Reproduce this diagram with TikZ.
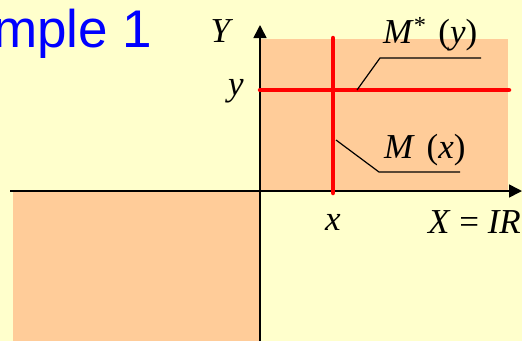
\documentclass[tikz,border=0pt]{standalone}
\usepackage{fontspec}
\setmainfont{Liberation Serif}
\newfontfamily\titlefont{Liberation Sans}
\usetikzlibrary{arrows.meta}

\definecolor{paper}{RGB}{255,255,204}
\definecolor{region}{RGB}{255,204,153}

\begin{document}
\begin{tikzpicture}[x=1pt,y=-1pt,
axis/.style={line width=1.6pt, -{Triangle[length=13pt,width=13pt]}},
cut/.style={red, line width=4.5pt, line cap=round},
leader/.style={line width=1.2pt},
mathlbl/.style={font=\fontsize{35}{42}\selectfont, inner sep=0pt}]

\fill[paper] (0,0) rectangle (522,341);
\useasboundingbox (0,0) rectangle (522,341);
\clip (0,0) rectangle (522,341);

\fill[region] (260,39) rectangle (508,191);
\fill[region] (13,191) rectangle (260,341);

\draw[axis] (10,191) -- (522,191);
\draw[axis] (260,341) -- (260,25);

\node[anchor=base east, font=\titlefont\fontsize{53}{64}\selectfont, text=blue] (title) at (156,47) {ample 1};

% sections through the point (x,y)
\coordinate (xtop) at (333,38);
\coordinate (xbot) at (333,193);
\coordinate (yleft) at (260,90);
\coordinate (yright) at (509,90);
\draw[cut] (xtop) -- (xbot);
\draw[cut] (yleft) -- (yright);

\node[mathlbl, anchor=base] (Ylab) at (222,42) {\textit{Y}};
\node[mathlbl, anchor=base] (ylab) at (236,95) {\textit{y}};
\node[mathlbl, anchor=base] (xlab) at (333,230) {\textit{x}};
\node[mathlbl, anchor=base east] (Xlab) at (521,233) {\textit{X} = \textit{IR}};
\node[mathlbl, anchor=base west] (Mstar) at (383,43) {\textit{M}\textsuperscript{*}\,\,(\textit{y})};
\node[mathlbl, anchor=base west] (Mx) at (384,158) {\textit{M}\,\,(\textit{x})};

\coordinate (ms1) at (357,90);
\coordinate (ms2) at (380,58);
\coordinate (ms3) at (481,58);
\coordinate (mx1) at (336,140);
\coordinate (mx2) at (379,172);
\coordinate (mx3) at (460,172);
\draw[leader] (ms1) -- (ms2) -- (ms3);
\draw[leader] (mx1) -- (mx2) -- (mx3);
\end{tikzpicture}
\end{document}
